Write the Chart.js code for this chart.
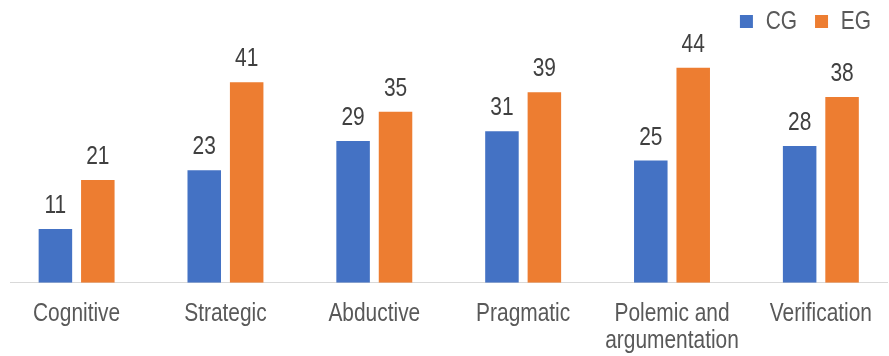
<!DOCTYPE html>
<html>
<head>
<meta charset="utf-8">
<script src="https://cdn.jsdelivr.net/npm/chart.js@4/dist/chart.umd.min.js"></script>
<style>
  html, body { margin: 0; padding: 0; background: #ffffff; }
  #wrap { width: 889px; height: 356px; position: relative; }
</style>
</head>
<body>
<div id="wrap"><canvas id="c"></canvas></div>
<script>
// Thinking-type scores per group
const categories = ['Cognitive', 'Strategic', 'Abductive', 'Pragmatic', ['Polemic and', 'argumentation'], 'Verification'];
const seriesNames = ['CG', 'EG'];
const cgValues = [11, 23, 29, 31, 25, 28];
const egValues = [21, 41, 35, 39, 44, 38];

const FONT = "'Liberation Sans', Arial, sans-serif";
const FONT_SIZE = 25.5;
const TEXT = '#595959';
const LABEL = '#404040';
const NARROW = 0.82; // horizontal squeeze giving an Arial Narrow look

const canvas = document.getElementById('c');
const ctx2d = canvas.getContext('2d');

// Condensed text: squeeze glyphs horizontally and report matching widths
const baseFill = ctx2d.fillText.bind(ctx2d);
const baseMeasure = ctx2d.measureText.bind(ctx2d);
ctx2d.fillText = function (text, x, y, maxWidth) {
  ctx2d.save();
  ctx2d.translate(x, y);
  ctx2d.scale(NARROW, 1);
  if (maxWidth !== undefined) baseFill(text, 0, 0, maxWidth / NARROW);
  else baseFill(text, 0, 0);
  ctx2d.restore();
};
ctx2d.measureText = function (text) {
  const m = baseMeasure(text);
  return {
    width: m.width * NARROW,
    actualBoundingBoxLeft: m.actualBoundingBoxLeft * NARROW,
    actualBoundingBoxRight: m.actualBoundingBoxRight * NARROW,
    actualBoundingBoxAscent: m.actualBoundingBoxAscent,
    actualBoundingBoxDescent: m.actualBoundingBoxDescent,
    fontBoundingBoxAscent: m.fontBoundingBoxAscent,
    fontBoundingBoxDescent: m.fontBoundingBoxDescent
  };
};

// Writes each bar's value just above it
const valueLabels = {
  id: 'valueLabels',
  afterDatasetsDraw(chart) {
    const ctx = chart.ctx;
    ctx.save();
    ctx.font = FONT_SIZE + 'px ' + FONT;
    ctx.fillStyle = LABEL;
    ctx.textAlign = 'center';
    ctx.textBaseline = 'alphabetic';
    chart.data.datasets.forEach((ds, di) => {
      const meta = chart.getDatasetMeta(di);
      meta.data.forEach((bar, i) => {
        ctx.fillText(String(ds.data[i]), bar.x, bar.y - 16);
      });
    });
    ctx.restore();
  }
};

new Chart(canvas, {
  type: 'bar',
  data: {
    labels: categories,
    datasets: [
      { label: seriesNames[0], data: cgValues, backgroundColor: '#4472C4', borderWidth: 0 },
      { label: seriesNames[1], data: egValues, backgroundColor: '#ED7D31', borderWidth: 0 }
    ]
  },
  options: {
    responsive: true,
    maintainAspectRatio: false,
    animation: false,
    devicePixelRatio: 1,
    categoryPercentage: 0.57,
    barPercentage: 0.79,
    layout: { padding: { left: 10, right: 0, top: -9.25, bottom: 0 } },
    plugins: {
      tooltip: { enabled: false },
      legend: {
        position: 'top',
        align: 'end',
        labels: {
          font: { family: FONT, size: FONT_SIZE },
          color: TEXT,
          boxWidth: 13,
          boxHeight: 13,
          padding: 18
        }
      }
    },
    scales: {
      x: {
        grid: { display: false, drawTicks: false },
        border: { display: true, color: '#D9D9D9', width: 1 },
        ticks: {
          font: { family: FONT, size: FONT_SIZE, lineHeight: 1.08 },
          color: TEXT,
          padding: 17,
          maxRotation: 0,
          autoSkip: false
        },
        afterBuildTicks(scale) {
          // spread the six categories slightly wider than the plot width
          scale._startValue = -0.4475;
          scale._valueRange = 5.897;
        },
        afterFit(scale) { scale.height = 73.3; }
      },
      y: {
        display: false,
        min: 0,
        max: 48.8
      }
    }
  },
  plugins: [valueLabels]
});
</script>
</body>
</html>
